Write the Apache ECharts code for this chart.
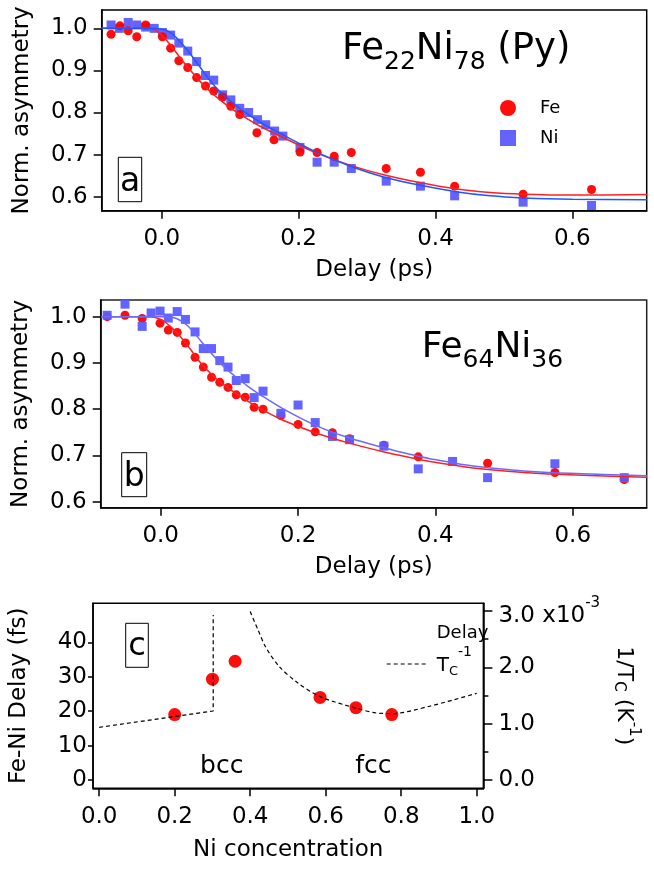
<!DOCTYPE html>
<html>
<head>
<meta charset="utf-8">
<script src="https://cdn.jsdelivr.net/npm/echarts@6/dist/echarts.min.js"></script>
<style>
html, body { margin: 0; padding: 0; background: #fff; }
#chart { width: 654px; height: 869px; }
</style>
</head>
<body>
<div id="chart"></div>
<script>
// panel a: Fe22Ni78 (Py)
const feA_t = [-0.074, -0.061, -0.049, -0.0365, -0.0235, 0.001, 0.013, 0.025, 0.038, 0.051, 0.064, 0.076, 0.089, 0.101, 0.114, 0.139, 0.164, 0.202, 0.227, 0.252, 0.277, 0.328, 0.378, 0.428, 0.528, 0.628];
const feA_v = [0.986, 1.006, 0.994, 0.980, 1.008, 0.980, 0.953, 0.923, 0.907, 0.883, 0.863, 0.851, 0.837, 0.815, 0.795, 0.752, 0.735, 0.706, 0.705, 0.696, 0.705, 0.667, 0.658, 0.625, 0.606, 0.617];
const niA_t = [-0.074, -0.062, -0.049, -0.0365, -0.0235, -0.011, 0.001, 0.013, 0.025, 0.038, 0.051, 0.064, 0.076, 0.089, 0.101, 0.114, 0.127, 0.140, 0.152, 0.165, 0.177, 0.202, 0.227, 0.252, 0.277, 0.328, 0.378, 0.428, 0.528, 0.628];
const niA_v = [1.008, 1.000, 1.014, 1.008, 1.003, 1.000, 0.990, 0.984, 0.965, 0.946, 0.921, 0.888, 0.877, 0.842, 0.830, 0.810, 0.800, 0.783, 0.771, 0.756, 0.744, 0.717, 0.682, 0.682, 0.667, 0.637, 0.625, 0.602, 0.587, 0.579];
const feFitA = [[-0.088, 1.0], [-0.04, 1.0], [-0.018, 1.0], [-0.003, 0.988], [0.012, 0.962], [0.026, 0.932], [0.041, 0.902], [0.056, 0.874], [0.070, 0.851], [0.085, 0.830], [0.104, 0.807], [0.124, 0.786], [0.143, 0.768], [0.178, 0.740], [0.226, 0.704], [0.275, 0.675], [0.324, 0.652], [0.378, 0.633], [0.428, 0.619], [0.48, 0.610], [0.528, 0.606], [0.6, 0.604], [0.709, 0.605]];
const niFitA = [[-0.088, 1.0], [-0.03, 1.0], [-0.004, 0.999], [0.012, 0.991], [0.026, 0.970], [0.041, 0.941], [0.056, 0.908], [0.070, 0.877], [0.085, 0.850], [0.104, 0.822], [0.124, 0.798], [0.143, 0.778], [0.178, 0.746], [0.226, 0.706], [0.275, 0.673], [0.324, 0.647], [0.378, 0.627], [0.43, 0.612], [0.48, 0.602], [0.53, 0.597], [0.6, 0.594], [0.709, 0.593]];

// panel b: Fe64Ni36
const feB_t = [-0.078, -0.052, -0.027, -0.001, 0.011, 0.024, 0.036, 0.050, 0.062, 0.074, 0.086, 0.098, 0.110, 0.123, 0.136, 0.149, 0.175, 0.200, 0.225, 0.250, 0.275, 0.325, 0.375, 0.476, 0.574, 0.675];
const feB_v = [1.000, 1.003, 0.996, 0.986, 0.971, 0.966, 0.943, 0.912, 0.891, 0.869, 0.858, 0.847, 0.831, 0.826, 0.804, 0.800, 0.786, 0.767, 0.751, 0.749, 0.736, 0.722, 0.697, 0.683, 0.663, 0.648];
const niB_t = [-0.078, -0.052, -0.027, -0.014, -0.001, 0.011, 0.024, 0.036, 0.050, 0.062, 0.074, 0.086, 0.098, 0.110, 0.123, 0.136, 0.149, 0.175, 0.200, 0.225, 0.250, 0.275, 0.325, 0.375, 0.425, 0.476, 0.574, 0.675];
const niB_v = [1.003, 1.027, 0.979, 1.008, 1.012, 0.997, 1.011, 0.994, 0.967, 0.931, 0.931, 0.905, 0.891, 0.862, 0.866, 0.825, 0.839, 0.791, 0.809, 0.771, 0.741, 0.734, 0.720, 0.671, 0.687, 0.652, 0.682, 0.652];
const feFitB = [[-0.087, 1.0], [-0.015, 1.0], [0.0, 0.994], [0.014, 0.979], [0.028, 0.958], [0.043, 0.930], [0.057, 0.902], [0.072, 0.878], [0.086, 0.859], [0.106, 0.838], [0.125, 0.819], [0.145, 0.801], [0.178, 0.776], [0.227, 0.748], [0.276, 0.726], [0.324, 0.708], [0.358, 0.697], [0.392, 0.687], [0.455, 0.673], [0.552, 0.661], [0.708, 0.653]];
const niFitB = [[-0.087, 1.0], [0.01, 1.0], [0.023, 0.996], [0.038, 0.982], [0.052, 0.959], [0.067, 0.932], [0.082, 0.907], [0.096, 0.886], [0.116, 0.862], [0.13, 0.846], [0.145, 0.831], [0.179, 0.800], [0.227, 0.764], [0.276, 0.737], [0.324, 0.717], [0.358, 0.704], [0.392, 0.693], [0.455, 0.677], [0.552, 0.664], [0.708, 0.656]];

// panel c: Fe-Ni delay vs Ni concentration
const niConc = [0.2, 0.3, 0.36, 0.585, 0.68, 0.775];
const delayFs = [19, 29.3, 34.5, 24, 21, 19];
const tcInvBcc = [[0.0, 0.936], [0.302, 1.225], [0.302, 2.93]];
const tcInvFcc = [[0.40, 2.99], [0.421, 2.66], [0.441, 2.36], [0.476, 2.02], [0.523, 1.74], [0.585, 1.48], [0.683, 1.27], [0.734, 1.19], [0.777, 1.18], [0.875, 1.31], [1.0, 1.54]];

const delayTicks = [0, 0.2, 0.4, 0.6];
const asymTicks = [0.6, 0.7, 0.8, 0.9, 1.0];
const concTicks = [0, 0.2, 0.4, 0.6, 0.8, 1.0];
const fsTicks = [0, 10, 20, 30, 40];
const tcTicks = [0, 1, 2, 3];
const tcMinorTicks = [0.5, 1.5, 2.5];

const FONT = 'DejaVu Sans';
const RED = '#ff0000';
const BLUE = '#5b5bff';

function zip(xs, ys) {
    return xs.map((x, i) => [x, ys[i]]);
}

function xAxisOf(grid, min, max, ticks, name) {
    return {
        type: 'value', gridIndex: grid, min: min, max: max,
        name: name, nameLocation: 'middle', nameGap: 48,
        nameTextStyle: { fontSize: 23, fontFamily: FONT, color: '#000' },
        axisLine: { show: true, onZero: false, lineStyle: { color: '#000', width: 1.5 } },
        axisTick: { show: true, length: 8, customValues: ticks, lineStyle: { color: '#000', width: 1.5 } },
        axisLabel: { customValues: ticks, fontSize: 23, fontFamily: FONT, color: '#000', margin: 17,
            formatter: v => v.toFixed(1) },
        splitLine: { show: false }
    };
}

function asymAxis(grid, min, max) {
    return {
        type: 'value', gridIndex: grid, min: min, max: max,
        name: 'Norm. asymmetry', nameLocation: 'middle', nameGap: 68, nameRotate: 90,
        nameTextStyle: { fontSize: 23, fontFamily: FONT, color: '#000' },
        axisLine: { show: true, onZero: false, lineStyle: { color: '#000', width: 1.5 } },
        axisTick: { show: true, length: 8, customValues: asymTicks, lineStyle: { color: '#000', width: 1.5 } },
        axisLabel: { customValues: asymTicks, fontSize: 23, fontFamily: FONT, color: '#000', margin: 14,
            formatter: v => v.toFixed(1) },
        splitLine: { show: false }
    };
}

function scatter(name, x, y, data, symbol, color, size) {
    return {
        name: name, type: 'scatter', xAxisIndex: x, yAxisIndex: y, data: data,
        symbol: symbol, symbolSize: size, itemStyle: { color: color, opacity: 0.95 },
        silent: true
    };
}

function fit(name, x, y, data, color) {
    return {
        name: name, type: 'line', xAxisIndex: x, yAxisIndex: y, data: data,
        showSymbol: false, smooth: 0.3,
        lineStyle: { color: color, width: 1.5 }, silent: true
    };
}

const chart = echarts.init(document.getElementById('chart'), null, { renderer: 'canvas' });

const subTitle = {
    m: { fontSize: 37, fontFamily: FONT, lineHeight: 52, color: '#000' },
    s: { fontSize: 25, fontFamily: FONT, lineHeight: 25, verticalAlign: 'bottom', color: '#000' }
};
const subTitleB = {
    m: { fontSize: 36, fontFamily: FONT, lineHeight: 50, color: '#000' },
    s: { fontSize: 25, fontFamily: FONT, lineHeight: 25, verticalAlign: 'bottom', color: '#000' }
};

function boxLabel(x, y, w, h, letter, size, ty) {
    return [
        { type: 'rect', shape: { x: x, y: y, width: w, height: h },
          style: { fill: '#fff', stroke: '#000', lineWidth: 1 }, z: 100 },
        { type: 'text', x: x + w / 2, y: ty, z: 101,
          style: { text: letter, fontSize: size, fontFamily: FONT, fill: '#000', align: 'center', verticalAlign: 'middle' } }
    ];
}

const option = {
    animation: false,
    backgroundColor: '#fff',
    grid: [
        { left: 101.7, top: 10, width: 545, height: 200.7, show: true, borderColor: '#000', borderWidth: 1.5 },
        { left: 100.7, top: 300, width: 546, height: 207.7, show: true, borderColor: '#222', borderWidth: 1.5 },
        { left: 90, top: 603.3, width: 441, height: 185, show: true, borderColor: '#000', borderWidth: 1.5 }
    ],
    legend: {
        data: ['Fe', 'Ni'], orient: 'vertical', left: 495, top: 94,
        itemWidth: 16, itemHeight: 16, itemGap: 12, selectedMode: false,
        textStyle: { fontSize: 18, fontFamily: FONT, color: '#000', padding: [0, 0, 0, 19] }
    },
    xAxis: [
        xAxisOf(0, -0.0877, 0.7086, delayTicks, 'Delay (ps)'),
        xAxisOf(1, -0.0874, 0.7077, delayTicks, 'Delay (ps)'),
        Object.assign(xAxisOf(2, -0.0164, 1.0176, concTicks, 'Ni concentration'), {
            nameGap: 50
        })
    ],
    yAxis: [
        asymAxis(0, 0.5667, 1.0436),
        asymAxis(1, 0.587, 1.036),
        {
            type: 'value', gridIndex: 2, min: -2.41, max: 51.33, position: 'left',
            name: 'Fe-Ni Delay (fs)', nameLocation: 'middle', nameGap: 62, nameRotate: 90,
            nameTextStyle: { fontSize: 23, fontFamily: FONT, color: '#000' },
            axisLine: { show: true, onZero: false, lineStyle: { color: '#000', width: 1.5 } },
            axisTick: { show: true, length: 5, customValues: fsTicks, lineStyle: { color: '#000', width: 1.5 } },
            axisLabel: { customValues: fsTicks, fontSize: 23, fontFamily: FONT, color: '#000', margin: 6 },
            splitLine: { show: false }
        },
        {
            type: 'value', gridIndex: 2, min: -0.147, max: 3.137, position: 'right',
            name: '{m|1/T}{c|C}{m| (K}{p|-1}{m|)}', nameLocation: 'middle', nameGap: 75, nameRotate: -90,
            nameTextStyle: {
                fontSize: 22, fontFamily: FONT, color: '#000',
                rich: {
                    m: { fontSize: 22, fontFamily: FONT, lineHeight: 44, color: '#000' },
                    c: { fontSize: 15, fontFamily: FONT, lineHeight: 15, verticalAlign: 'top', padding: [20, 0, 0, 0], color: '#000' },
                    p: { fontSize: 15, fontFamily: FONT, lineHeight: 15, verticalAlign: 'top', padding: [5, 0, 0, 0], color: '#000' }
                }
            },
            axisLine: { show: true, onZero: false, lineStyle: { color: '#000', width: 1.5 } },
            axisTick: { show: true, length: 9, customValues: tcTicks, lineStyle: { color: '#000', width: 1.5 } },
            axisLabel: {
                customValues: tcTicks, fontSize: 23, fontFamily: FONT, color: '#000', margin: 15,
                formatter: v => v === 3 ? '{m|3.0 x10}{p|-3}' : v.toFixed(1),
                rich: {
                    m: { fontSize: 23, fontFamily: FONT, lineHeight: 33, verticalAlign: 'top', padding: [10, 0, 0, 0], color: '#000' },
                    p: { fontSize: 15, fontFamily: FONT, lineHeight: 15, verticalAlign: 'top', padding: [1, 0, 0, 0], color: '#000' }
                }
            },
            splitLine: { show: false }
        },
        {
            type: 'value', gridIndex: 2, min: -0.147, max: 3.137, position: 'right',
            axisLine: { show: false, onZero: false },
            axisTick: { show: true, length: 5, customValues: tcMinorTicks, lineStyle: { color: '#000', width: 1.5 } },
            axisLabel: { show: false },
            splitLine: { show: false }
        }
    ],
    series: [
        scatter('Ni', 0, 0, zip(niA_t, niA_v), 'rect', BLUE, 9),
        scatter('Fe', 0, 0, zip(feA_t, feA_v), 'circle', RED, 9),
        fit('Fe fit a', 0, 0, feFitA, '#ff2020'),
        fit('Ni fit a', 0, 0, niFitA, '#2255ff'),

        scatter('Fe b', 1, 1, zip(feB_t, feB_v), 'circle', RED, 9),
        scatter('Ni b', 1, 1, zip(niB_t, niB_v), 'rect', BLUE, 9),
        fit('Fe fit b', 1, 1, feFitB, '#ff2020'),
        fit('Ni fit b', 1, 1, niFitB, '#6a6aff'),

        {
            name: 'Tc bcc', type: 'line', xAxisIndex: 2, yAxisIndex: 3, data: tcInvBcc,
            showSymbol: false, lineStyle: { color: '#000', width: 1.2, type: [4, 3] }, silent: true
        },
        {
            name: 'Tc fcc', type: 'line', xAxisIndex: 2, yAxisIndex: 3, data: tcInvFcc,
            showSymbol: false, smooth: 0.3, lineStyle: { color: '#000', width: 1.2, type: [4, 3] }, silent: true
        },
        scatter('Delay', 2, 2, zip(niConc, delayFs), 'circle', RED, 13)
    ],
    graphic: [
        { type: 'text', x: 342, y: 49, z: 100,
          style: { text: '{m|Fe}{s|22}{m|Ni}{s|78}{m| (Py)}', rich: subTitle, align: 'left', verticalAlign: 'middle' } },
        { type: 'text', x: 421.7, y: 347.5, z: 100,
          style: { text: '{m|Fe}{s|64}{m|Ni}{s|36}', rich: subTitleB, align: 'left', verticalAlign: 'middle' } },
        ...boxLabel(118.3, 157.3, 23.4, 44.4, 'a', 33, 182),
        ...boxLabel(121.7, 452.7, 25, 44, 'b', 33, 477),
        ...boxLabel(125.7, 623.3, 22.6, 44, 'c', 32, 647),
        { type: 'text', x: 221.7, y: 766, z: 100,
          style: { text: 'bcc', fontSize: 25, fontFamily: FONT, fill: '#000', align: 'center', verticalAlign: 'middle' } },
        { type: 'text', x: 373.3, y: 766, z: 100,
          style: { text: 'fcc', fontSize: 25, fontFamily: FONT, fill: '#000', align: 'center', verticalAlign: 'middle' } },
        { type: 'text', x: 436.7, y: 633, z: 100,
          style: { text: 'Delay', fontSize: 18, fontFamily: FONT, fill: '#000', align: 'left', verticalAlign: 'middle' } },
        { type: 'line', z: 100, shape: { x1: 386.7, y1: 664, x2: 426.7, y2: 664 },
          style: { stroke: '#000', lineWidth: 1.2, lineDash: [4, 3] } },
        { type: 'text', x: 436.7, y: 665.7, z: 100,
          style: {
              text: '{m|T}{c|C}{p|-1}', align: 'left', verticalAlign: 'middle',
              rich: {
                  m: { fontSize: 20, fontFamily: FONT, lineHeight: 40, fill: '#000' },
                  c: { fontSize: 13, fontFamily: FONT, lineHeight: 13, verticalAlign: 'top', padding: [19, 0, 0, 0], fill: '#000' },
                  p: { fontSize: 14, fontFamily: FONT, lineHeight: 14, verticalAlign: 'top', padding: [0, 0, 0, 0], fill: '#000' }
              }
          } }
    ]
};

chart.setOption(option);
</script>
</body>
</html>
